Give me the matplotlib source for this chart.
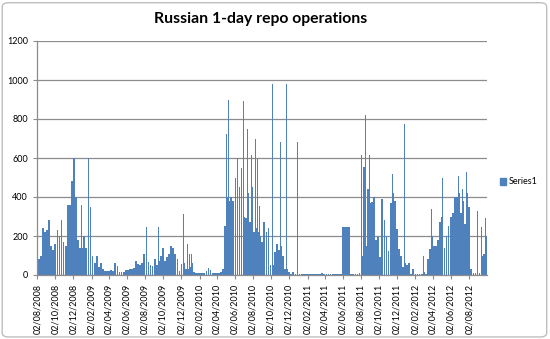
import numpy as np
import matplotlib
matplotlib.use('Agg')
import matplotlib.pyplot as plt
import matplotlib.dates as mdates
from matplotlib.patches import Patch, FancyBboxPatch

plt.rcParams['font.family'] = ['Lato', 'DejaVu Sans']

## Weekly volumes (bn RUB), weeks starting Monday 04/08/2008
weekly = [
    80, 100, 240, 220, 230, 280, 150, 130, 160, 230,
    200, 280, 170, 150, 360, 360, 480, 600, 400, 180,
    140, 140, 200, 140, 200, 350, 100, 60, 100, 40,
    60, 30, 20, 20, 20, 25, 20, 60, 45, 15,
    15, 15, 25, 25, 30, 30, 35, 70, 55, 50,
    60, 110, 150, 65, 50, 45, 80, 50, 70, 100,
    140, 70, 90, 110, 150, 140, 110, 80, 20, 55,
    60, 30, 30, 40, 60, 15, 10, 10, 10, 10,
    10, 20, 35, 25, 10, 8, 8, 8, 15, 30,
    250, 400, 380, 400, 380, 500, 600, 450, 380, 300,
    290, 420, 270, 450, 220, 240, 220, 200, 170, 270,
    220, 240, 50, 50, 120, 160, 130, 150, 100, 30,
    30, 15, 3, 15, 3, 3, 3, 3, 3, 3,
    3, 3, 3, 3, 3, 3, 3, 10, 3, 3,
    3, 3, 3, 3, 3, 3, 3, 245, 245, 245,
    245, 3, 3, 3, 3, 10, 100, 555, 150, 440,
    370, 375, 400, 180, 195, 90, 390, 280, 200, 125,
    370, 420, 380, 235, 135, 100, 40, 60, 50, 60,
    5, 30, 3, 3, 3, 3, 15, 5, 80, 135,
    200, 150, 150, 180, 270, 300, 140, 200, 250, 300,
    320, 400, 400, 420, 320, 380, 260, 420, 350, 30,
    10, 10, 10, 10, 100, 110, 200,
]

## Single-day peaks
spike_dates = [
    '2008-12-31', '2009-01-07', '2009-01-21', '2009-04-22', '2009-08-05',
    '2009-09-16', '2009-12-09', '2009-12-23', '2009-12-30', '2010-01-06',
    '2010-05-05', '2010-05-12', '2010-05-19', '2010-05-26', '2010-06-23',
    '2010-06-30', '2010-07-14', '2010-07-28', '2010-08-11', '2010-08-18',
    '2010-08-25', '2010-09-01', '2010-10-06', '2010-11-03', '2010-11-24',
    '2010-12-15', '2010-12-29', '2011-08-03', '2011-08-17', '2011-08-31',
    '2011-11-16', '2011-12-28', '2012-02-29', '2012-03-28', '2012-04-25',
    '2012-05-02', '2012-06-27', '2012-07-11', '2012-07-25', '2012-08-29',
    '2012-09-12', '2012-09-26',
]
spike_values = [
    360, 365, 600, 80, 245,
    245, 315, 160, 110, 110,
    725, 895, 945, 520, 550,
    890, 750, 615, 700, 595,
    355, 595, 980, 680, 980,
    200, 680, 615, 820, 615,
    520, 775, 100, 340, 380,
    495, 510, 440, 530, 330,
    245, 290,
]

bar_color = '#4F81BD'
grid_color = '#8C8C8C'

week_start = np.datetime64('2008-08-04') + 7 * np.arange(len(weekly))
weeks = mdates.date2num(week_start.astype('datetime64[D]').astype(object)) + 3
spikes = mdates.date2num(np.array(spike_dates, dtype='datetime64[D]').astype(object))

fig = plt.figure(figsize=(5.5, 3.39), dpi=100)
ax = fig.add_axes([37 / 550, 1 - 275 / 339, 450 / 550, 234 / 339])

ax.bar(weeks, weekly, width=6, color=bar_color, linewidth=0)
ax.bar(spikes, spike_values, width=3, color=bar_color, linewidth=0)

ax.set_ylim(0, 1200)
ax.set_yticks(np.arange(0, 1201, 200))
ax.set_xlim(mdates.datestr2num('2008-08-01'), mdates.datestr2num('2012-10-01'))
ax.xaxis.set_major_locator(mdates.MonthLocator(bymonth=[2, 4, 6, 8, 10, 12], bymonthday=2))
ax.xaxis.set_major_formatter(mdates.DateFormatter('%d/%m/%Y'))

ax.yaxis.grid(True, color=grid_color, linewidth=0.9)
ax.set_axisbelow(True)
for side in ['top', 'right']:
    ax.spines[side].set_visible(False)
for side in ['left', 'bottom']:
    ax.spines[side].set_color(grid_color)
    ax.spines[side].set_linewidth(0.9)
ax.tick_params(axis='both', colors=grid_color, labelcolor='black', labelsize=6.5,
               length=3, width=0.8)
ax.tick_params(axis='x', rotation=90)

fig.text(0.473, 0.945, 'Russian 1-day repo operations', ha='center', va='center',
         fontsize=11.3, fontweight='bold')

fig.legend(handles=[Patch(color=bar_color)], labels=['Series1'], loc='center left',
           bbox_to_anchor=(492 / 550, 1 - 182 / 339), frameon=False, fontsize=6.5,
           handlelength=0.7, handleheight=0.7, handletextpad=0.3)

fig.patches.append(FancyBboxPatch((0.004, 0.006), 0.99, 0.986, boxstyle='round,pad=0,rounding_size=0.012',
                                  transform=fig.transFigure, facecolor='none',
                                  edgecolor='#BFBFBF', linewidth=1))

fig.savefig('out.png', dpi=100)
